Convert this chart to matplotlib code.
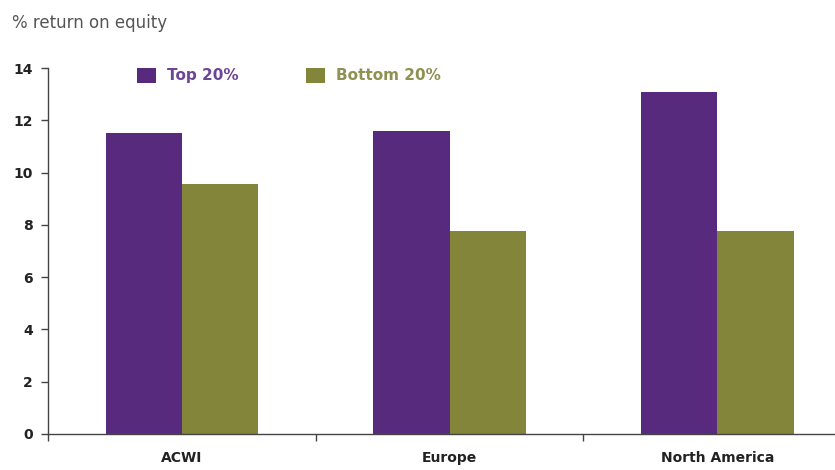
import numpy as np
import matplotlib
matplotlib.use("Agg")
import matplotlib.pyplot as plt
from matplotlib.ticker import FixedLocator

# ====================
# Données
# ====================
categories = ["ACWI", "Europe", "North America"]
top_20 = [11.5, 11.6, 13.1]
bottom_20 = [9.55, 7.75, 7.75]
series_labels = ["Top 20%", "Bottom 20%"]
yticks = [0, 2, 4, 6, 8, 10, 12, 14]

purple = "#582A7E"
olive = "#83853A"

fig = plt.figure(figsize=(8.35, 4.7), dpi=100)
ax = fig.add_axes([0.0575, 0.0766, 0.9425, 0.7787])

x = np.arange(len(categories))
w = 0.285
ax.bar(x - w / 2, top_20, width=w, color=purple, label=series_labels[0])
ax.bar(x + w / 2, bottom_20, width=w, color=olive, label=series_labels[1])

ax.set_ylim(0, 14)
ax.set_xlim(-0.5, 2.44)
ax.set_yticks(yticks)
ax.set_xticks(x)
ax.set_xticklabels(categories, fontsize=10, fontweight="bold", color="#222222")
ax.xaxis.set_minor_locator(FixedLocator([-0.5, 0.5, 1.5]))
ax.tick_params(axis="x", which="major", length=0, pad=12)
ax.tick_params(axis="x", which="minor", length=5, width=1, color="#444444")
ax.tick_params(axis="y", length=5, width=1, color="#444444", labelsize=10, pad=6)
for lab in ax.get_yticklabels():
    lab.set_fontweight("bold")
    lab.set_color("#222222")

for side in ["top", "right"]:
    ax.spines[side].set_visible(False)
for side in ["left", "bottom"]:
    ax.spines[side].set_color("#444444")
    ax.spines[side].set_linewidth(1)

ax.legend(ncol=2, frameon=False, loc="upper left",
          bbox_to_anchor=(0.095, 1.038),
          handlelength=1.25, handleheight=1.1, columnspacing=4.4,
          handletextpad=0.75,
          labelcolor=["#6E4596", "#8E9150"], prop={"weight": "bold", "size": 11})

fig.text(0.014, 0.951, "% return on equity", fontsize=12, color="#555555",
         ha="left", va="center")

fig.savefig("out.png", dpi=100)
